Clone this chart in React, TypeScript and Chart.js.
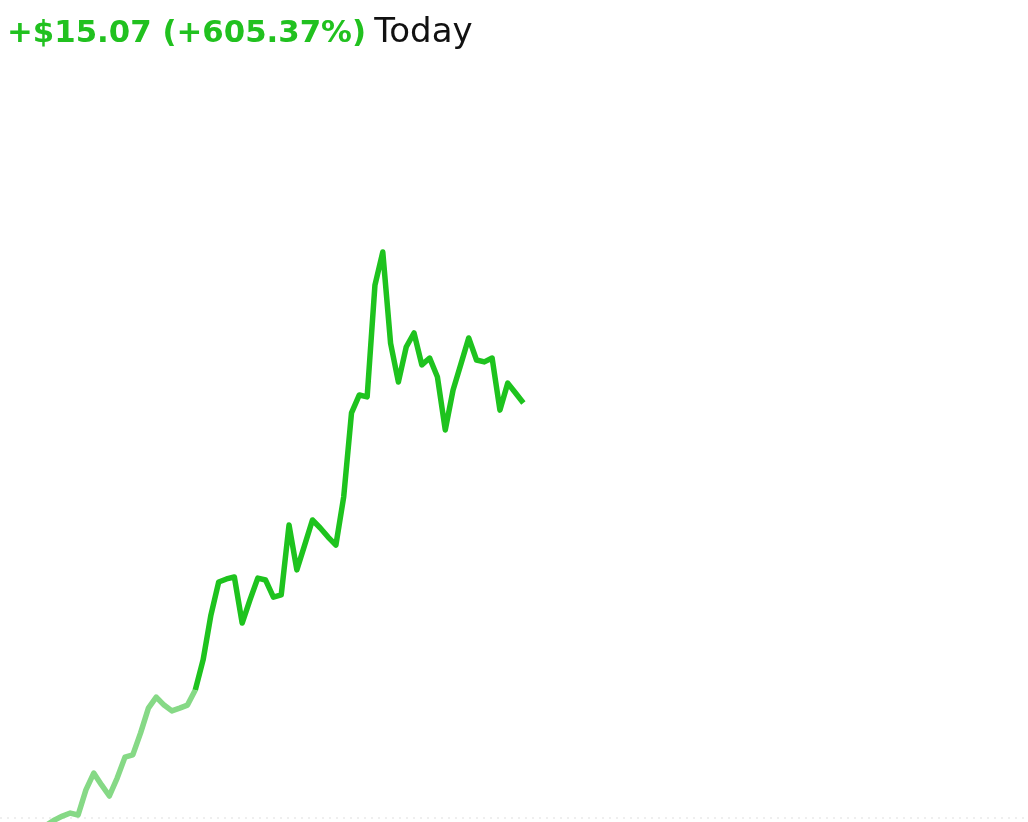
import React, { useEffect, useRef } from "react";
import { Chart, registerables } from "chart.js";

Chart.register(...registerables);

// Header text
const changeText = "+$15.07";
const percentText = "(+605.37%)";
const periodText = "Today";

// Reference price (previous close) drawn as a faint dotted line
const previousClose = 2.49;

// Pre-market prices (lighter green), one per 5-minute slot starting at slot 0
const preMarketStart = 0;
const preMarketPrices = [
  1.98, 2.05, 1.95, 2.09, 2.02, 2.13, 2.24, 2.42, 2.56, 2.67, 2.6, 3.51, 4.12,
  3.69, 3.29, 3.94, 4.7, 4.78, 5.58, 6.48, 6.88, 6.59, 6.38, 6.48, 6.59, 7.14,
];

// Regular-session prices (bright green), starting where pre-market ends
const marketStart = 25;
const marketPrices = [
  7.14, 8.23, 9.86, 11.06, 11.17, 11.24, 9.57, 10.41, 11.2, 11.13, 10.51, 10.59,
  13.13, 11.5, 12.4, 13.31, 13.02, 12.69, 12.4, 14.15, 17.2, 17.85, 17.78, 21.84,
  23.04, 19.73, 18.32, 19.59, 20.1, 18.94, 19.19, 18.5, 16.58, 18.03, 18.97,
  19.92, 19.12, 19.05, 19.19, 17.3, 18.28, 17.92, 17.56,
];

// Axis extents (slots across the full day, price window)
const slotMin = 0;
const slotMax = 131.6;
const priceMin = 2.345;
const priceMax = 32.19;

const toPoints = (start: number, values: number[]) =>
  values.map((v, i) => ({ x: start + i, y: v }));

export default function App() {
  const canvasRef = useRef<HTMLCanvasElement | null>(null);

  useEffect(() => {
    if (!canvasRef.current) return;
    const chart = new Chart(canvasRef.current, {
      type: "line",
      data: {
        datasets: [
          {
            data: [
              { x: slotMin, y: previousClose },
              { x: slotMax, y: previousClose },
            ],
            borderColor: "#efefef",
            borderWidth: 2,
            borderDash: [2, 5],
            pointRadius: 0,
            order: 3,
          },
          {
            data: toPoints(preMarketStart, preMarketPrices),
            borderColor: "#86d986",
            borderWidth: 5.5,
            pointRadius: 0,
            tension: 0,
            borderJoinStyle: "round",
            borderCapStyle: "butt",
            order: 2,
          },
          {
            data: toPoints(marketStart, marketPrices),
            borderColor: "#1ec31e",
            borderWidth: 5.5,
            pointRadius: 0,
            tension: 0,
            borderJoinStyle: "round",
            borderCapStyle: "butt",
            order: 1,
          },
        ],
      },
      options: {
        animation: false,
        responsive: false,
        layout: { padding: 0 },
        plugins: {
          legend: { display: false },
          tooltip: { enabled: false },
          title: { display: false },
        },
        scales: {
          x: {
            type: "linear",
            min: slotMin,
            max: slotMax,
            display: false,
          },
          y: {
            type: "linear",
            min: priceMin,
            max: priceMax,
            display: false,
          },
        },
      },
    });
    return () => chart.destroy();
  }, []);

  return (
    <div
      style={{
        position: "fixed",
        left: 0,
        top: 0,
        width: 1028,
        height: 822,
        background: "#ffffff",
        overflow: "hidden",
      }}
    >
      <canvas
        ref={canvasRef}
        width={1028}
        height={822}
        style={{ position: "absolute", left: 0, top: 0, width: 1028, height: 822 }}
      />
      <div
        style={{
          position: "absolute",
          left: 7,
          top: 10,
          fontFamily: "'DejaVu Sans', sans-serif",
          fontSize: 34,
          lineHeight: "40px",
          whiteSpace: "nowrap",
        }}
      >
        <span style={{ color: "#21c11f", fontWeight: 700, fontSize: 30.8 }}>
          {changeText} {percentText}
        </span>
        <span style={{ fontSize: 26 }}> </span>
        <span style={{ color: "#111111", fontWeight: 400 }}>{periodText}</span>
      </div>
    </div>
  );
}
